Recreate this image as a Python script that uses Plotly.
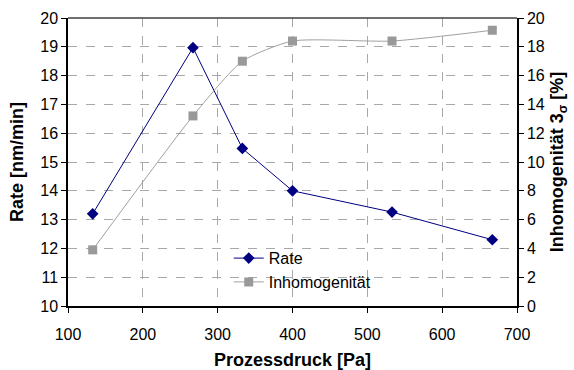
import plotly.graph_objects as go

# Process pressure [Pa]
druck = [133, 267, 333, 400, 533, 667]
# Etch/deposition rate [nm/min]
rate = [13.2, 18.97, 15.47, 14.0, 13.26, 12.3]
# Inhomogeneity 3 sigma [%]
inhomogenitaet = [3.9, 13.2, 17.0, 18.4, 18.4, 19.15]

FONT = "Liberation Sans, Arial, sans-serif"
GRID = "#a8a8a8"
TICK_SIZE = 16
TITLE_SIZE = 18

fig = go.Figure()
fig.add_trace(go.Scatter(
    x=druck, y=rate, name="Rate", mode="lines+markers",
    line=dict(color="#000080", width=1),
    marker=dict(symbol="diamond", size=9, color="#000080"),
    yaxis="y",
))
fig.add_trace(go.Scatter(
    x=druck, y=inhomogenitaet, name="Inhomogenität", mode="lines+markers",
    line=dict(color="#a0a0a0", width=1, shape="spline", smoothing=0.6),
    marker=dict(symbol="square", size=9, color="#999999"),
    yaxis="y2",
))

fig.update_layout(
    width=574, height=370,
    margin=dict(l=68, r=57, t=18, b=64, autoexpand=False),
    paper_bgcolor="white", plot_bgcolor="white",
    font=dict(family=FONT, size=TICK_SIZE, color="black"),
    showlegend=True,
    legend=dict(
        x=0.358, y=0.225, xanchor="left", yanchor="top",
        bgcolor="rgba(255,255,255,0)", borderwidth=0,
        font=dict(size=16), itemwidth=30, tracegroupgap=0,
    ),
    xaxis=dict(
        range=[100, 700], dtick=100, tick0=100,
        showgrid=True, gridcolor=GRID, griddash="dash", gridwidth=1,
        showline=True, linecolor="black", linewidth=1.5,
        ticks="outside", ticklen=5, tickcolor="black",
        ticklabelstandoff=8,
        zeroline=False, mirror=False, automargin=False,
        title=dict(text="<b>Prozessdruck [Pa]</b>", font=dict(size=TITLE_SIZE), standoff=12),
    ),
    yaxis=dict(
        range=[10, 20], dtick=1,
        showgrid=True, gridcolor=GRID, griddash="dash", gridwidth=1,
        showline=True, linecolor="black", linewidth=1.5,
        ticks="outside", ticklen=5, tickcolor="black",
        zeroline=False, automargin=False,
        title=dict(text="<b>Rate [nm/min]</b>", font=dict(size=TITLE_SIZE), standoff=12),
    ),
    yaxis2=dict(
        range=[0, 20], dtick=2, overlaying="y", side="right",
        showgrid=False,
        showline=True, linecolor="black", linewidth=1.5,
        ticks="outside", ticklen=5, tickcolor="black",
        zeroline=False, automargin=False,
        title=dict(text="<b>Inhomogenität 3<sub>σ</sub> [%]</b>", font=dict(size=TITLE_SIZE), standoff=7),
    ),
    shapes=[dict(type="line", xref="paper", yref="paper", x0=0, x1=1, y0=1, y1=1,
                 line=dict(color="#404040", width=1.5))],
)

fig.write_html("out.html")
